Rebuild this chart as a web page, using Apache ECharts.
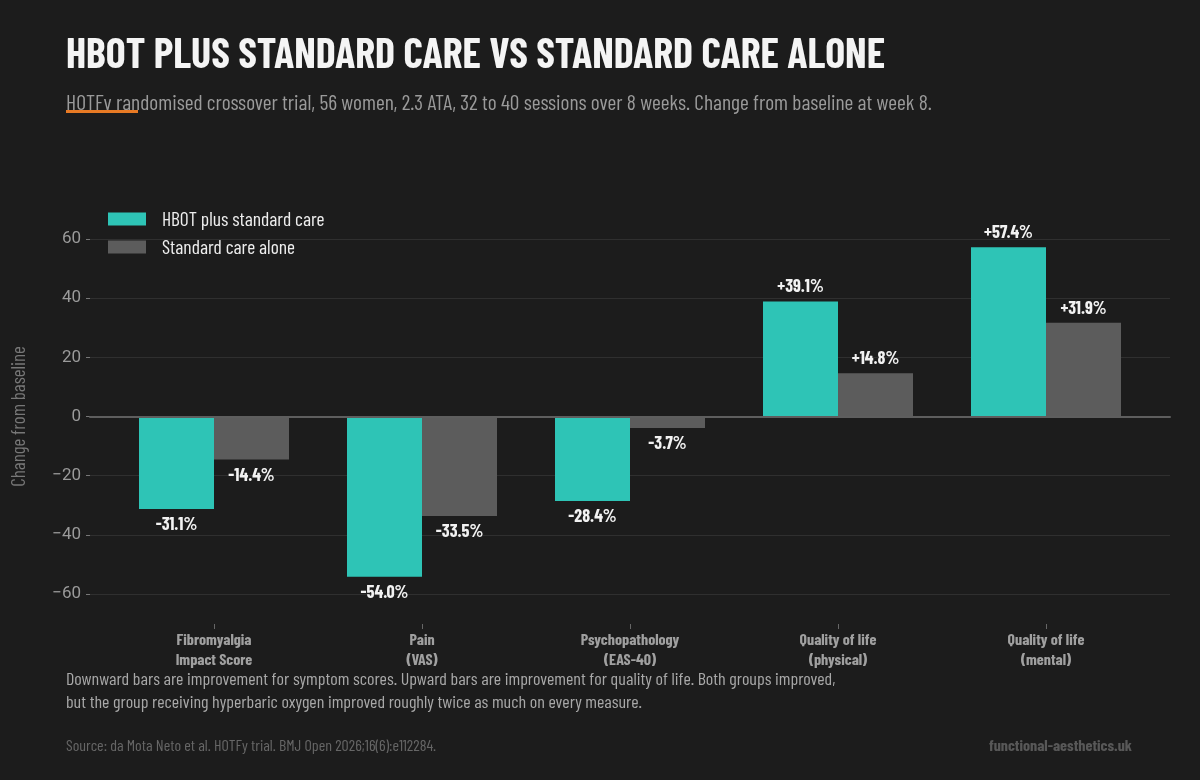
<!DOCTYPE html>
<html><head><meta charset="utf-8">
<script src="https://cdn.jsdelivr.net/npm/echarts@6/dist/echarts.min.js"></script>
<style>html,body{margin:0;padding:0;background:#1c1c1c}#c{width:1200px;height:780px}</style>
</head><body><div id="c"></div>
<script>
const categories = ['Fibromyalgia\nImpact Score', 'Pain\n(VAS)', 'Psychopathology\n(EAS-40)', 'Quality of life\n(physical)', 'Quality of life\n(mental)'];
const hbot = [-31.1, -54.0, -28.4, 39.1, 57.4];
const standard = [-14.4, -33.5, -3.7, 14.8, 31.9];
const seriesNames = ['HBOT plus standard care', 'Standard care alone'];
const yTicks = [-60, 60, 20];

const COND = '"Barlow Condensed","Liberation Sans Narrow","DejaVu Sans Condensed","Roboto Condensed","Arial Narrow",sans-serif';
const fmt = v => (v > 0 ? '+' : '') + v.toFixed(1) + '%';

const chart = echarts.init(document.getElementById('c'));
const labelCfg = {
  show: true, color: '#f2f2f2', fontFamily: COND, fontWeight: 'bold', fontSize: 18, distance: 6,
  formatter: p => fmt(p.value)
};
function mkSeries(name, data, color) {
  return {
    name, type: 'bar', xAxisIndex: 0, yAxisIndex: 0, barWidth: 75, barGap: '0%',
    itemStyle: { color },
    data: data.map(v => ({ value: v, label: { position: v >= 0 ? 'top' : 'bottom' } })),
    label: labelCfg, z: 3
  };
}
chart.setOption({
  backgroundColor: '#1c1c1c',
  animation: false,
  title: [
    { text: 'HBOT PLUS STANDARD CARE VS STANDARD CARE ALONE', left: 61, top: 28,
      textStyle: { color: '#f4f4f4', fontFamily: COND, fontWeight: 'bold', fontSize: 42 } },
    { text: 'HOTFv randomised crossover trial, 56 women, 2.3 ATA, 32 to 40 sessions over 8 weeks. Change from baseline at week 8.',
      left: 61, top: 87, textStyle: { color: '#9a9a9a', fontFamily: COND, fontWeight: 'normal', fontSize: 21.5 } },
    { text: 'Downward bars are improvement for symptom scores. Upward bars are improvement for quality of life. Both groups improved,\nbut the group receiving hyperbaric oxygen improved roughly twice as much on every measure.',
      left: 61, top: 662, textStyle: { color: '#a8a8a8', fontFamily: COND, fontWeight: 'normal', fontSize: 18, lineHeight: 23 } },
    { text: 'Source: da Mota Neto et al. HOTFy trial. BMJ Open 2026;16(6):e112284.', left: 61, top: 733,
      textStyle: { color: '#666', fontFamily: COND, fontWeight: 'normal', fontSize: 16 } },
    { text: 'functional-aesthetics.uk', right: 63, top: 733,
      textStyle: { color: '#585858', fontFamily: COND, fontWeight: 'bold', fontSize: 16 } }
  ],
  graphic: [
    { type: 'rect', shape: { x: 66, y: 110, width: 72, height: 3 }, style: { fill: '#e87a24' }, z: 10 }
  ],
  legend: {
    data: seriesNames, orient: 'vertical', left: 108, top: 209, padding: 0, itemWidth: 38, itemHeight: 13, itemGap: 8,
    textStyle: { color: '#eeeeee', fontFamily: COND, fontSize: 19.5, padding: [0, 0, 0, 11] }, icon: 'rect'
  },
  grid: [
    { left: 110, right: 50, top: 210, height: 414 },
    { left: 90, right: 30, top: 239, height: 355 }
  ],
  xAxis: [
    { type: 'category', gridIndex: 0, data: categories, position: 'bottom',
      axisLine: { show: false, onZero: false },
      axisTick: { show: true, alignWithLabel: true, length: 5, lineStyle: { color: '#666' } },
      axisLabel: { color: '#a0a0a0', fontFamily: COND, fontWeight: 'bold', fontSize: 16, lineHeight: 20, margin: 6 } },
    { type: 'value', gridIndex: 1, min: 0, max: 1, axisLabel: { show: false }, axisTick: { show: false }, splitLine: { show: false },
      axisLine: { show: true, onZero: true, lineStyle: { color: '#5e5e5e', width: 2 } }, z: 4 }
  ],
  yAxis: [
    { type: 'value', gridIndex: 0, min: -70, max: 70, show: false, splitLine: { show: false } },
    { type: 'value', gridIndex: 1, min: yTicks[0], max: yTicks[1], interval: yTicks[2],
      name: 'Change from baseline', nameLocation: 'middle', nameGap: 62, nameRotate: 90,
      nameTextStyle: { color: '#777', fontFamily: COND, fontSize: 19 },
      axisLine: { show: false },
      axisTick: { show: true, length: 4, lineStyle: { color: '#777' } },
      axisLabel: { color: '#9a9a9a', fontFamily: 'Roboto, sans-serif', fontSize: 17, margin: 9,
        formatter: v => v < 0 ? '\u2212' + Math.abs(v) : String(v) },
      splitLine: { show: true, lineStyle: { color: '#2f2f2f', width: 1 } } }
  ],
  series: [
    mkSeries(seriesNames[0], hbot, '#2ec4b6'),
    mkSeries(seriesNames[1], standard, '#5c5c5c')
  ]
});
</script></body></html>
